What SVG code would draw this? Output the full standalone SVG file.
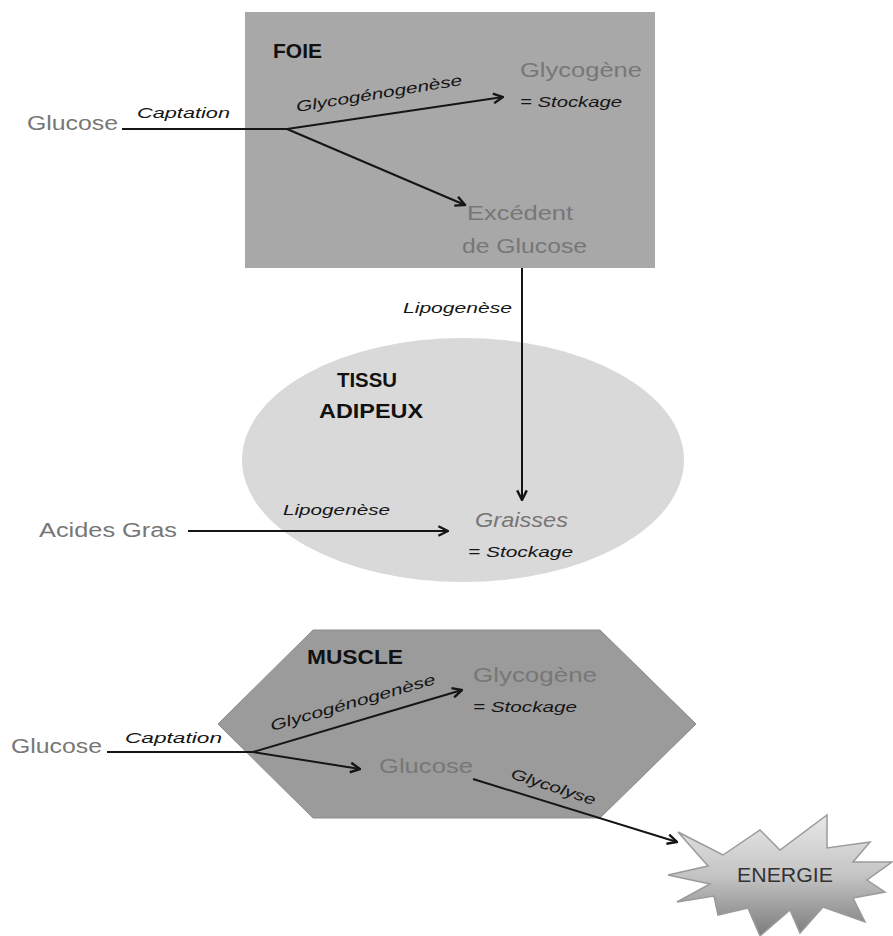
<svg xmlns="http://www.w3.org/2000/svg" width="893" height="936" viewBox="0 0 893 936">
<style>
text{font-family:"Liberation Sans","Open Sans",Arial,sans-serif}
.title{font-weight:bold;fill:#111;font-size:21px}
.gray{fill:#777;font-size:20px}
.it{font-style:italic;fill:#151515;font-size:15px}
.line{stroke:#151515;stroke-width:2;fill:none}
.arr{marker-end:url(#arrow)}
</style>
<defs>
<marker id="arrow" viewBox="0 0 10 10" refX="9" refY="5" markerWidth="6" markerHeight="6" orient="auto" markerUnits="strokeWidth">
<path d="M1,1 L9,5 L1,9" fill="none" stroke="#151515" stroke-width="2"/>
</marker>
<linearGradient id="starg" x1="0" y1="0" x2="0" y2="1">
<stop offset="0" stop-color="#e8e8e8"/>
<stop offset="0.5" stop-color="#c4c4c4"/>
<stop offset="1" stop-color="#7c7c7c"/>
</linearGradient>
</defs>

<g id="foie">
<rect x="245" y="12" width="410" height="256" fill="#a8a8a8"/>
<text class="title" x="273" y="58" textLength="49" lengthAdjust="spacingAndGlyphs">FOIE</text>
<text class="gray" x="520" y="77" textLength="122" lengthAdjust="spacingAndGlyphs">Glycogène</text>
<text class="it" x="520" y="107" textLength="102" lengthAdjust="spacingAndGlyphs">= Stockage</text>
<text class="gray" x="467" y="220" font-size="21" textLength="106" lengthAdjust="spacingAndGlyphs">Excédent</text>
<text class="gray" x="462" y="253" font-size="21" textLength="125" lengthAdjust="spacingAndGlyphs">de Glucose</text>
</g>

<g id="tissu-adipeux">
<ellipse cx="463" cy="460" rx="221" ry="122" fill="#d9d9d9"/>
<text class="title" x="337" y="387" textLength="60" lengthAdjust="spacingAndGlyphs">TISSU</text>
<text class="title" x="319" y="418" textLength="104" lengthAdjust="spacingAndGlyphs">ADIPEUX</text>
<text class="gray" x="475" y="527" font-size="22" font-style="italic" textLength="93" lengthAdjust="spacingAndGlyphs">Graisses</text>
<text class="it" x="468" y="557" font-size="16" textLength="105" lengthAdjust="spacingAndGlyphs">= Stockage</text>
</g>

<g id="muscle">
<polygon points="313,630 600,630 696,724 600,818 313,818 218,724" fill="#9b9b9b" stroke="#8c8c8c" stroke-width="1"/>
<text class="title" x="307" y="664" textLength="96" lengthAdjust="spacingAndGlyphs">MUSCLE</text>
<text class="gray" x="473" y="682" fill="#7d7d7d" textLength="124" lengthAdjust="spacingAndGlyphs">Glycogène</text>
<text class="it" x="473" y="712" textLength="104" lengthAdjust="spacingAndGlyphs">= Stockage</text>
<text class="gray" x="379" y="773" font-size="21" textLength="94" lengthAdjust="spacingAndGlyphs">Glucose</text>
</g>

<g id="energie">
<polygon points="678,832 723,855 760,830 780,850 827,815 827,848 870,842 853,862 892,862 867,880 885,892 853,898 865,922 823,907 800,933 790,910 760,936 748,908 718,915 714,896 677,902 710,884 668,875 708,866" fill="url(#starg)" stroke="#9a9a9a" stroke-width="1.5"/>
<text x="737" y="882" font-size="20" fill="#333" textLength="96" lengthAdjust="spacingAndGlyphs">ENERGIE</text>
</g>

<g id="glucose-foie-src">
<text class="gray" x="27" y="130" font-size="21" textLength="91" lengthAdjust="spacingAndGlyphs">Glucose</text>
</g>
<g id="acides-gras">
<text class="gray" x="39" y="537" font-size="21" textLength="138" lengthAdjust="spacingAndGlyphs">Acides Gras</text>
</g>
<g id="glucose-muscle-src">
<text class="gray" x="11" y="753" font-size="21" textLength="91" lengthAdjust="spacingAndGlyphs">Glucose</text>
</g>

<g id="connectors">
<path class="line" d="M122,129 L287,129"/>
<path class="line arr" d="M287,129 L503,97"/>
<path class="line arr" d="M287,129 L465,205"/>
<path class="line arr" d="M522,268 L522,500"/>
<path class="line arr" d="M188,531 L448,531"/>
<path class="line" d="M107,752 L253,752"/>
<path class="line arr" d="M253,752 L462,690"/>
<path class="line arr" d="M253,752 L360,769"/>
<path class="line arr" d="M473,779 L677,842"/>

<text class="it" x="137" y="118" font-size="16" textLength="93" lengthAdjust="spacingAndGlyphs">Captation</text>
<text class="it" x="297" y="112" font-size="16" textLength="168" lengthAdjust="spacingAndGlyphs" transform="rotate(-9.3 297 112)">Glycogénogenèse</text>
<text class="it" x="403" y="313" textLength="109" lengthAdjust="spacingAndGlyphs">Lipogenèse</text>
<text class="it" x="283" y="515" textLength="107" lengthAdjust="spacingAndGlyphs">Lipogenèse</text>
<text class="it" x="125" y="743" font-size="16" textLength="97" lengthAdjust="spacingAndGlyphs">Captation</text>
<text class="it" x="272" y="731" font-size="16" textLength="171" lengthAdjust="spacingAndGlyphs" transform="rotate(-16 272 731)">Glycogénogenèse</text>
<text class="it" x="510" y="778" textLength="88" lengthAdjust="spacingAndGlyphs" transform="rotate(18 510 778)">Glycolyse</text>
</g>
</svg>
